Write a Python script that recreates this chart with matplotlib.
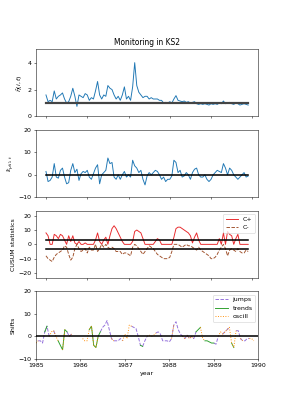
import numpy as np
import matplotlib
matplotlib.use('Agg')
import matplotlib.pyplot as plt

# time axis, 0.05 yr steps from 1985.0 to 1989.9
years = np.round(1985 + 0.05 * np.arange(99), 2)

eta = [1.6, 1.1, 1.2, 1.1, 1.9, 1.3, 1.5, 1.6, 1.75, 1.3,
       1.0, 1.1, 1.5, 2.1, 1.5, 0.75, 1.6, 1.5, 1.4, 1.7,
       1.6, 1.2, 1.4, 1.3, 1.9, 2.6, 1.6, 1.3, 1.6, 1.5,
       2.3, 2.1, 2.0, 1.6, 1.3, 1.5, 1.2, 1.6, 2.2, 1.3,
       1.5, 1.2, 2.2, 4.0, 2.3, 1.8, 1.6, 1.4, 1.5, 1.5,
       1.3, 1.4, 1.3, 1.3, 1.3, 1.2, 1.2, 1.0, 1.05, 1.0,
       1.1, 1.0, 1.3, 1.55, 1.2, 1.15, 1.1, 1.15, 1.05, 1.1,
       1.0, 1.05, 1.1, 0.95, 0.9, 0.95, 0.9, 0.95, 0.9, 0.85,
       0.95, 0.9, 0.95, 0.9, 1.0, 0.95, 1.15, 0.95, 1.0, 1.05,
       0.95, 0.9, 1.0, 0.95, 0.85, 0.9, 0.95, 0.9, 0.85]

eps = [1.5, -3, -2.5, -1, 5, -1, -1.5, 2, 3, -1,
       -4, -3.5, 2, 5, 1, 2.5, -2.5, 0.5, 1.5, 1,
       2, -1, -2, 0.5, 3, 4.5, -4, 0, 1, 2,
       7.5, 5, 5.5, -1, -2, 0, -2, 0, 1.5, -1,
       0, -1, 6.5, 4, 3, 1, 2, -2, -4.5, -0.5,
       1, 0, 1, 2, 1.5, 0, -2, -1, -3, -2,
       -2, -0.5, 6.5, 5.5, 1, 2, -1, -0.5, 1, 0,
       -2, 1, 2.5, 3, 0, -1, -1, 0, -2, -3,
       -2, 0, 1, 2, 1.5, 1, 5, 3, 0, 3,
       2, 0, -1, -2, -1, 0, 1, -1, -0.5]

c_plus = [8, 6, 0, 0, 7, 6, 4, 7, 6, 3,
          0, 6, 2, 6, 1, 0, 2, 0, 0, 1,
          0, 0, 0, 0, 3, 8, 2, 0, 3, 5,
          0, 6, 11, 13, 11, 8, 5, 2, 0, 0,
          0, 0, 2, 9, 10, 9, 8, 4, 0, 0,
          0, 0, 0, 2, 4, 3, 0, 0, 0, 0,
          0, 0, 5, 11, 12, 12, 11, 10, 9, 8,
          6, 1, 5, 8, 3, 0, 0, 0, 0, 0,
          0, 0, 0, 0, 4, 0, 8, 0, 9, 7,
          6, 0, 4, 7, 0, 0, 0, 0, 0]

c_minus = [-8, -10, -11, -12, -9, -7, -6, -5, -4, -1,
           -2, -7, -11, -9, -3, 0, -3, -5, -4, -3,
           -6, -2, -4, -4, 0, -5, -3, 0, -2, 0,
           -2, -3, -2, -3, -5, -5, -5, -7, -6, -6,
           -7, -8, -2, 0, -1, -3, -5, -7, -5, -3,
           -1, -2, -3, -5, -7, -8, -9, -10, -10, -10,
           -9, -5, 0, 0, 0, -1, -2, -1, 0, -1,
           -1, -2, -3, -4, -2, -4, -5, -6, -7, -8,
           -10, -10, -9, -7, -4, -2, 0, -3, -8, -4,
           -3, -4, -5, -3, -5, -6, -6, -4, -5]

shift = [-3, -2, -2, -3, 2, 4.5, 0, 2, 2.5, 0,
         -2, -4, -6, 3, 2, 0, 1, np.nan, np.nan, np.nan,
         np.nan, -1, -2, -2, 3, 4.5, -4, -5, 0, 2,
         4, 5, 7, 3, -1, -2, -2, -2, -1, -2,
         1, -1, 5, 4.5, 4, 3.5, 0, -4, -4.5, -2,
         0, 0.5, 0, 0.5, 1.5, 2, 1, -2, -2, -2,
         -2.5, -1, 5, 6.5, 3, 1, 0, -1, 0.5, -1,
         0, -1, 2, 3, 4, -1, -2, -2, -2.5, -3,
         -3, -3.5, 0, 2, 1, 2, 3, 4, -3, -5,
         2.5, 2.5, -1, -2, -2, -1, -1, -1, -2]

# regime of each shift point: j=jumps, t=trends, o=oscill, -=none
kind = ("ojjjtjoojo" "ttotjoj---"
        "-oootototj" "jjjjojjjjo"
        "ooojjjjtjj" "oooojjjjjj"
        "jojjjjojoj" "ojttootttt"
        "jjoojojoto" "jjojjjooo")

h = 3

# 287x410 px output
fig, axes = plt.subplots(4, 1, figsize=(287 / 45, 410 / 45), dpi=45)
plt.subplots_adjust(left=0.125, right=0.9, top=0.88, bottom=0.125, hspace=0.2)
ax1, ax2, ax3, ax4 = axes

ax1.plot(years, eta, color='tab:blue')
ax1.plot([years[0], years[-1]], [1, 1], color='#444444', lw=3.5, zorder=3)
ax1.set_ylim(0, 5)
ax1.set_yticks([0, 2, 4])
ax1.set_ylabel(r'$\hat{\tilde{\eta}}(i,t)$')
ax1.set_title('Monitoring in KS2')

ax2.plot(years, eps, color='tab:blue')
ax2.plot([years[0], years[-1]], [0, 0], color='black', lw=2.5, zorder=3)
ax2.set_ylim(-10, 20)
ax2.set_ylabel(r'$\hat{\epsilon}_{\mu(i),t}$')

ax3.plot(years, c_plus, color='#e8282b', label='C+')
ax3.plot(years, c_minus, color='#a0522d', ls='--', label='C-')
ax3.plot([years[0], years[-1]], [h, h], color='black', lw=2.5, zorder=3)
ax3.plot([years[0], years[-1]], [-h, -h], color='black', lw=2.5, zorder=3)
ax3.set_ylim(-23.5, 23.5)
ax3.set_ylabel('CUSUM statistics')
ax3.legend(loc='upper right')

for ax in (ax1, ax2, ax3):
    ax.set_xticks([1985, 1986, 1987, 1988, 1989, 1990])
    ax.set_xticklabels([])

shift = np.array(shift, dtype=float)
styles = {'j': ('jumps', 'mediumpurple', '--'),
          't': ('trends', 'tab:green', '-'),
          'o': ('oscill', 'darkorange', ':')}
for k, (lab, col, ls) in styles.items():
    y = np.full(len(shift), np.nan)
    for i in range(len(shift)):
        if kind[i] == k or (i > 0 and kind[i - 1] == k and kind[i] != '-'):
            y[i] = shift[i]
    ax4.plot(years, y, color=col, ls=ls, label=lab)
ax4.axhline(0, color='black', lw=2.5)
ax4.set_xlim(1985, 1990)
ax4.set_ylim(-10, 20)
ax4.set_xticks([1985, 1986, 1987, 1988, 1989, 1990])
ax4.set_ylabel('Shifts')
ax4.set_xlabel('year')
ax4.legend(loc='upper right')

plt.savefig('out.png')
